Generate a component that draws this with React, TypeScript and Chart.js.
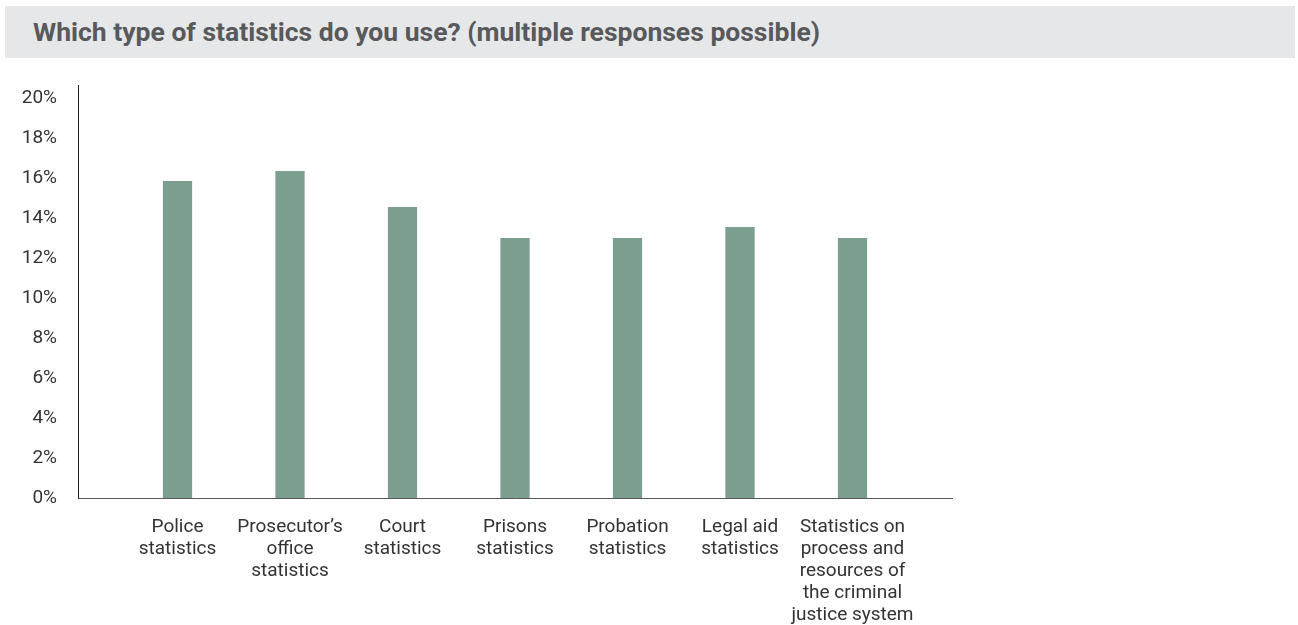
import React, { useEffect, useRef } from "react";
import { Chart, registerables } from "chart.js";

Chart.register(...registerables);

const TITLE = "Which type of statistics do you use? (multiple responses possible)";

const categories: string[][] = [
  ["Police", "statistics"],
  ["Prosecutor’s", "office", "statistics"],
  ["Court", "statistics"],
  ["Prisons", "statistics"],
  ["Probation", "statistics"],
  ["Legal aid", "statistics"],
  ["Statistics on", "process and", "resources of", "the criminal", "justice system"],
];

// share of respondents, in percent
const shares: number[] = [15.85, 16.35, 14.55, 13.0, 13.0, 13.55, 13.0];

const yTicks: number[] = [0, 2, 4, 6, 8, 10, 12, 14, 16, 18, 20];

const BAR_COLOR = "#7b9e8f";
const TEXT_COLOR = "#333333";
const FONT = "Roboto, 'Noto Sans', sans-serif";

export default function App() {
  const canvasRef = useRef<HTMLCanvasElement | null>(null);

  useEffect(() => {
    if (!canvasRef.current) return;
    const chart = new Chart(canvasRef.current, {
      type: "bar",
      data: {
        datasets: [
          {
            data: shares.map((v, i) => ({ x: i, y: v })),
            backgroundColor: BAR_COLOR,
            borderWidth: 0,
            barPercentage: 1,
            categoryPercentage: 0.26,
          },
        ],
      },
      options: {
        animation: false,
        responsive: false,
        maintainAspectRatio: false,
        layout: { padding: { left: 0, right: 346, top: 85, bottom: 0 } },
        plugins: {
          legend: { display: false },
          tooltip: { enabled: false },
          title: { display: false },
        },
        scales: {
          x: {
            type: "linear",
            offset: false,
            min: -0.8844,
            max: categories.length - 1 + 0.8844,
            grid: { display: false, drawTicks: false },
            border: { display: true, color: "#595959", width: 1 },
            afterBuildTicks: (axis: any) => {
              axis.ticks = categories.map((_, i) => ({ value: i }));
            },
            afterFit: (axis: any) => {
              axis.height = 127;
            },
            ticks: {
              autoSkip: false,
              maxRotation: 0,
              minRotation: 0,
              padding: 18,
              color: TEXT_COLOR,
              font: { family: FONT, size: 19, lineHeight: 22 / 19 },
              callback: (value: any) => categories[Number(value)] ?? "",
            },
          },
          y: {
            type: "linear",
            min: 0,
            max: 20.65,
            grid: { display: false, drawTicks: false },
            border: { display: true, color: "#1f1f1f", width: 1 },
            afterBuildTicks: (axis: any) => {
              axis.ticks = yTicks.map((v) => ({ value: v }));
            },
            afterFit: (axis: any) => {
              axis.width = 78;
            },
            ticks: {
              padding: 21,
              color: TEXT_COLOR,
              font: { family: FONT, size: 19 },
              callback: (value: any) => `${value}%`,
            },
          },
        },
      },
    });
    return () => chart.destroy();
  }, []);

  return (
    <div
      style={{
        position: "fixed",
        left: 0,
        top: 0,
        width: 1298,
        height: 625,
        background: "#ffffff",
        overflow: "hidden",
      }}
    >
      <div
        style={{
          position: "absolute",
          left: 5,
          top: 6,
          width: 1290,
          height: 52,
          background: "#e6e7e9",
          boxSizing: "border-box",
          paddingLeft: 28,
          lineHeight: "52px",
          fontFamily: FONT,
          fontWeight: 700,
          fontSize: 26.5,
          color: "#58595b",
          whiteSpace: "nowrap",
        }}
      >
        {TITLE}
      </div>
      <canvas
        ref={canvasRef}
        width={1298}
        height={625}
        style={{ position: "absolute", left: 0, top: 0, width: 1298, height: 625 }}
      />
    </div>
  );
}
